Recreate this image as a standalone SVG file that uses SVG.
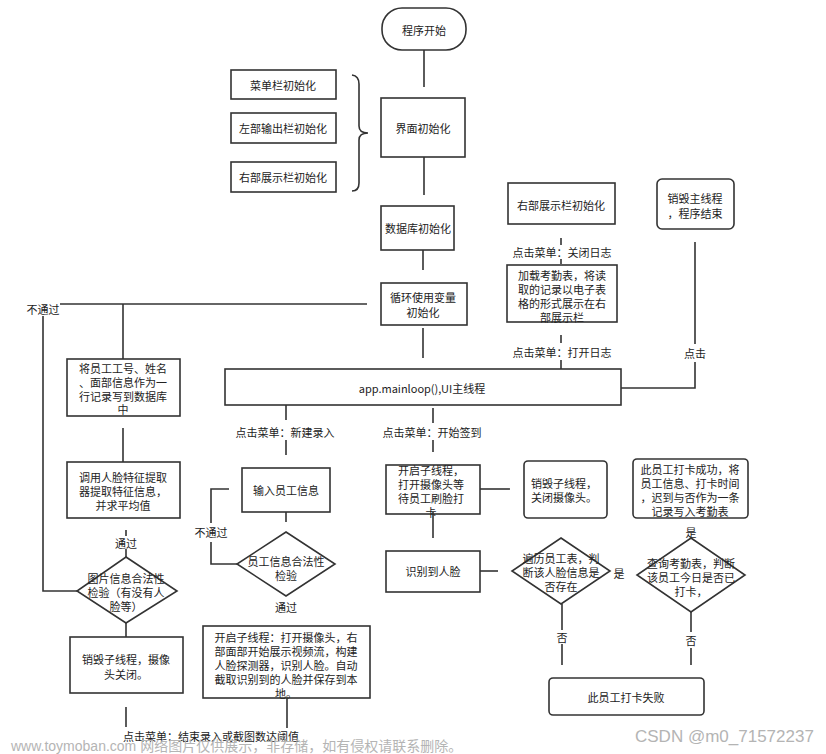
<svg xmlns="http://www.w3.org/2000/svg" width="826" height="754" viewBox="0 0 826 754">
<style>
.b{fill:#fff;stroke:#333;stroke-width:1.6}
.c line,.c polyline,.c path{fill:none;stroke:#333;stroke-width:1.6}
text{font-family:"Noto Sans CJK SC","Noto Sans",sans-serif;font-size:11px;fill:#222;text-anchor:middle;dominant-baseline:central}
.wm{font-family:"Liberation Sans","Noto Sans CJK SC",sans-serif;fill:#b4b4b4;text-anchor:start;dominant-baseline:auto}
</style>
<rect width="826" height="754" fill="#fff"/>

<g id="start"><rect class="b" x="382" y="8" width="84" height="42" rx="20"/><text x="424" y="30">程序开始</text></g>
<g id="ui-init"><rect class="b" x="381" y="98" width="84" height="59"/><text x="423" y="128">界面初始化</text></g>
<g id="menu-init"><rect class="b" x="231" y="70" width="105" height="29"/><text x="283" y="85">菜单栏初始化</text></g>
<g id="left-init"><rect class="b" x="231" y="113" width="105" height="30"/><text x="283" y="128">左部输出栏初始化</text></g>
<g id="right-init"><rect class="b" x="231" y="162" width="105" height="30"/><text x="283" y="177">右部展示栏初始化</text></g>
<g id="db-init"><rect class="b" x="381" y="206" width="73" height="44"/><text x="418" y="228">数据库初始化</text></g>
<g id="loop-init"><rect class="b" x="381" y="283" width="86" height="42"/><text x="423" y="297">循环使用变量<tspan x="423" dy="15">初始化</tspan></text></g>
<g id="mainloop"><rect class="b" x="225" y="369" width="396" height="36"/><text x="422" y="388">app.mainloop(),UI主线程</text></g>

<g id="right-init2"><rect class="b" x="508" y="183" width="107" height="41"/><text x="561" y="205">右部展示栏初始化</text></g>
<g id="load-table"><rect class="b" x="507" y="265" width="110" height="57"/><text x="562" y="275">加载考勤表，将读<tspan x="562" dy="14">取的记录以电子表</tspan><tspan x="562" dy="14">格的形式展示在右</tspan><tspan x="562" dy="14">部展示栏</tspan></text></g>
<g id="destroy-main"><rect class="b" x="657" y="179" width="77" height="50" rx="5"/><text x="695" y="198">销毁主线程<tspan x="695" dy="15">，程序结束</tspan></text></g>

<g id="save-db"><rect class="b" x="67" y="359" width="113" height="57"/><text x="123" y="368">将员工工号、姓名<tspan x="123" dy="14">、面部信息作为一</tspan><tspan x="123" dy="14">行记录写到数据库</tspan><tspan x="123" dy="13">中</tspan></text></g>
<g id="extract"><rect class="b" x="67" y="462" width="113" height="56"/><text x="123" y="477">调用人脸特征提取<tspan x="123" dy="14">器提取特征信息，</tspan><tspan x="123" dy="14">并求平均值</tspan></text></g>
<g id="img-check"><polygon class="b" points="126,557 177,591 126,623 77,591"/><text x="126" y="578">图片信息合法性<tspan x="126" dy="14">检验（有没有人</tspan><tspan x="126" dy="14">脸等）</tspan></text></g>
<g id="destroy-sub1"><rect class="b" x="70" y="637" width="113" height="56"/><text x="126" y="659">销毁子线程，摄像<tspan x="126" dy="15">头关闭。</tspan></text></g>

<g id="input-info"><rect class="b" x="242" y="468" width="88" height="44"/><text x="286" y="490">输入员工信息</text></g>
<g id="info-check"><polygon class="b" points="286,532 335,564 286,596 237,564"/><text x="286" y="561">员工信息合法性<tspan x="286" dy="14">检验</tspan></text></g>
<g id="start-sub1"><rect class="b" x="203" y="626" width="167" height="72"/><text x="286" y="637">开启子线程：打开摄像头，右<tspan x="286" dy="14">部面部开始展示视频流，构建</tspan><tspan x="286" dy="14">人脸探测器，识别人脸。自动</tspan><tspan x="286" dy="14">截取识别到的人脸并保存到本</tspan><tspan x="286" dy="14">地。</tspan></text></g>

<g id="start-sub2"><rect class="b" x="386" y="465" width="94" height="49"/><text x="431" y="470">开启子线程，<tspan x="431" dy="14">打开摄像头等</tspan><tspan x="431" dy="14">待员工刷脸打</tspan><tspan x="431" dy="14">卡</tspan></text></g>
<g id="destroy-sub2"><rect class="b" x="524" y="461" width="83" height="57" rx="4"/><text x="564" y="483">销毁子线程，<tspan x="564" dy="14">关闭摄像头。</tspan></text></g>
<g id="face-found"><rect class="b" x="386" y="551" width="94" height="41"/><text x="433" y="571">识别到人脸</text></g>
<g id="emp-check"><polygon class="b" points="561,538 610,571 561,604 512,571"/><text x="561" y="558">遍历员工表，判<tspan x="561" dy="14">断该人脸信息是</tspan><tspan x="561" dy="14">否存在</tspan></text></g>
<g id="att-check"><polygon class="b" points="691,538 745,575 691,612 637,575"/><text x="691" y="563">查询考勤表，判断<tspan x="691" dy="14">该员工今日是否已</tspan><tspan x="691" dy="14">打卡，</tspan></text></g>
<g id="success"><rect class="b" x="633" y="459" width="115" height="59" rx="4"/><text x="690" y="469">此员工打卡成功，将<tspan x="690" dy="14">员工信息、打卡时间</tspan><tspan x="690" dy="14">，迟到与否作为一条</tspan><tspan x="690" dy="14">记录写入考勤表</tspan></text></g>
<g id="fail"><rect class="b" x="549" y="678" width="155" height="37" rx="4"/><text x="626" y="697">此员工打卡失败</text></g>

<g id="connectors" class="c">
<path d="M352,75 Q359,76 359,84 L359,126 Q359,133 368,133 Q359,133 359,140 L359,183 Q359,191 352,191"/>
<line x1="424" y1="50" x2="424" y2="87"/>
<line x1="424" y1="157" x2="424" y2="195"/>
<line x1="423" y1="250" x2="423" y2="270"/>
<line x1="423" y1="328" x2="423" y2="358"/>
<polyline points="77,591 43,591 43,316"/>
<line x1="60" y1="304" x2="367" y2="304"/>
<line x1="123" y1="304" x2="123" y2="359"/>
<line x1="123" y1="428" x2="123" y2="462"/>
<line x1="126" y1="530" x2="126" y2="536"/>
<line x1="126" y1="549" x2="126" y2="557"/>
<line x1="126" y1="623" x2="126" y2="637"/>
<line x1="126" y1="707" x2="126" y2="727"/>
<line x1="287" y1="698" x2="287" y2="728"/>
<line x1="286" y1="405" x2="286" y2="420"/>
<line x1="286" y1="440" x2="286" y2="455"/>
<line x1="286" y1="512" x2="286" y2="522"/>
<polyline points="237,564 211,564 211,542"/>
<polyline points="211,523 211,489 229,489"/>
<line x1="433" y1="408" x2="433" y2="423"/>
<line x1="433" y1="440" x2="433" y2="452"/>
<line x1="480" y1="489" x2="510" y2="489"/>
<line x1="433" y1="538" x2="433" y2="512"/>
<line x1="480" y1="571" x2="498" y2="571"/>
<line x1="562" y1="604" x2="562" y2="630"/>
<line x1="562" y1="644" x2="562" y2="665"/>
<line x1="691" y1="612" x2="691" y2="632"/>
<line x1="691" y1="648" x2="691" y2="665"/>
<line x1="561" y1="238" x2="561" y2="245"/>
<line x1="561" y1="259" x2="561" y2="264"/>
<line x1="561" y1="335" x2="561" y2="343"/>
<line x1="561" y1="360" x2="561" y2="369"/>
<polyline points="621,388 695,388 695,362"/>
<line x1="695" y1="344" x2="695" y2="242"/>
</g>
<g id="labels">
<text x="43" y="309">不通过</text>
<text x="126" y="543">通过</text>
<text x="211" y="736">点击菜单：结束录入或截图数达阈值</text>
<text x="285" y="432">点击菜单：新建录入</text>
<text x="211" y="532">不通过</text>
<text x="286" y="607">通过</text>
<text x="432" y="432">点击菜单：开始签到</text>
<text x="619" y="573">是</text>
<text x="691" y="532">是</text>
<text x="562" y="637">否</text>
<text x="691" y="640">否</text>
<text x="562" y="252">点击菜单：关闭日志</text>
<text x="562" y="352">点击菜单：打开日志</text>
<text x="695" y="353">点击</text>
</g>
<g id="watermarks">
<text class="wm" x="11" y="751" style="font-size:14px">www.toymoban.com 网络图片仅供展示，非存储，如有侵权请联系删除。</text>
<text class="wm" x="635" y="742" style="font-size:17px">CSDN @m0_71572237</text>
</g>
</svg>
